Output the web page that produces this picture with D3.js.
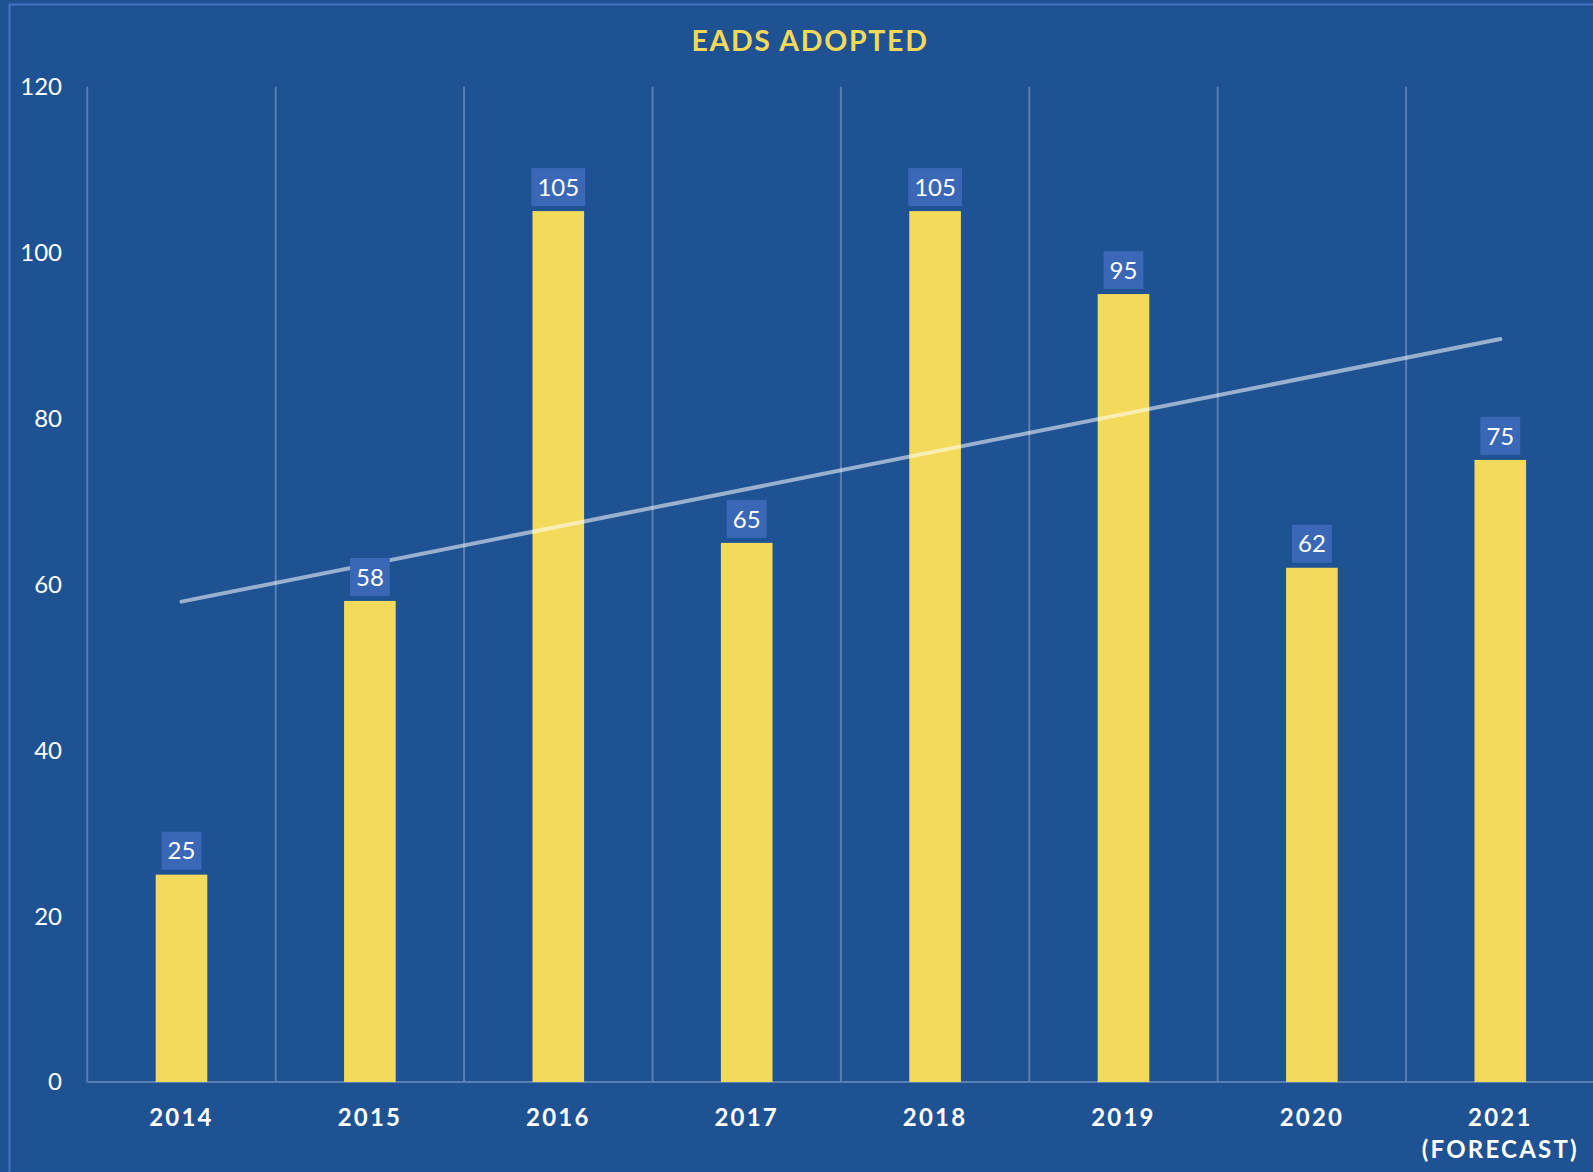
<!DOCTYPE html>
<html>
<head>
<meta charset="utf-8">
<script src="https://cdn.jsdelivr.net/npm/d3@7"></script>
<style>
  html, body { margin: 0; padding: 0; background: #1F5293; overflow: hidden; }
  svg { display: block; font-family: Lato, "Open Sans", sans-serif; }
</style>
</head>
<body>
<svg id="chart" width="1593" height="1172"></svg>
<script>
const categories = ["2014", "2015", "2016", "2017", "2018", "2019", "2020", "2021\n(FORECAST)"];
const values = [25, 58, 105, 65, 105, 95, 62, 75];
const yTicks = [0, 20, 40, 60, 80, 100, 120];
const title = "EADS ADOPTED";

(function () {
const W = 1593, H = 1172;
const svg = d3.select("#chart");

// background + frame
svg.append("rect").attr("x", 0).attr("y", 0).attr("width", W).attr("height", H).attr("fill", "#1F5293");
svg.append("rect").attr("x", 9.5).attr("y", 4.5).attr("width", W + 20).attr("height", H + 20)
  .attr("fill", "none").attr("stroke", "#4673C0").attr("stroke-width", 2);

const plotLeft = 87.3, step = 188.4, plotBottom = 1082, plotTop = 86.7;
const x = d3.scaleBand().domain(categories).range([plotLeft, plotLeft + step * categories.length]).padding(0);
const y = d3.scaleLinear().domain([0, 120]).range([plotBottom, plotTop]);
const barW = x.bandwidth() * 0.274;

// title
svg.append("text").attr("x", 810).attr("y", 50.5).attr("text-anchor", "middle")
  .attr("fill", "#F3D95A").attr("font-size", 28.5).attr("font-weight", 700)
  .attr("letter-spacing", 1.7).text(title);

// vertical gridlines at category boundaries
const bounds = categories.map(c => x(c));
svg.append("g").selectAll("line").data(bounds).join("line")
  .attr("x1", d => d).attr("x2", d => d).attr("y1", y(120)).attr("y2", y(0))
  .attr("stroke", "#5A7EB4").attr("stroke-width", 2);

// x axis line
svg.append("line").attr("x1", plotLeft).attr("x2", W).attr("y1", y(0)).attr("y2", y(0))
  .attr("stroke", "#5A7EB4").attr("stroke-width", 2);

// y tick labels
svg.append("g").selectAll("text").data(yTicks).join("text")
  .attr("x", 62).attr("y", d => y(d)).attr("dy", "0.35em").attr("text-anchor", "end")
  .attr("fill", "#FFFFFF").attr("font-size", 24).text(d => d);

// bars
svg.append("g").selectAll("rect").data(values).join("rect")
  .attr("x", (d, i) => x(categories[i]) + x.bandwidth() / 2 - barW / 2)
  .attr("y", d => y(d)).attr("width", barW).attr("height", d => y(0) - y(d))
  .attr("fill", "#F3DA5B");

// trendline (linear regression of the series)
const n = values.length;
const xs = values.map((d, i) => i + 1);
const mx = d3.mean(xs), my = d3.mean(values);
const slope = d3.sum(xs.map((xv, i) => (xv - mx) * (values[i] - my))) / d3.sum(xs.map(xv => (xv - mx) ** 2));
const icpt = my - slope * mx;
const cx = i => x(categories[i]) + x.bandwidth() / 2;
svg.append("line")
  .attr("x1", cx(0)).attr("y1", y(icpt + slope * 1))
  .attr("x2", cx(n - 1)).attr("y2", y(icpt + slope * n))
  .attr("stroke", "#FFFFFF").attr("stroke-opacity", 0.55).attr("stroke-width", 4).attr("stroke-linecap", "round");

// data labels
const lab = svg.append("g").selectAll("g").data(values).join("g");
lab.each(function(d, i) {
  const g = d3.select(this);
  const t = g.append("text").attr("x", cx(i)).attr("y", y(d) - 5 - 19).attr("dy", "0.36em")
    .attr("text-anchor", "middle").attr("fill", "#FFFFFF").attr("font-size", 24).text(d);
  const bw = t.node().getComputedTextLength() + 12;
  g.insert("rect", "text").attr("x", cx(i) - bw / 2).attr("y", y(d) - 5 - 38)
    .attr("width", bw).attr("height", 38).attr("fill", "#3A68B7");
});

// x category labels
const xl = svg.append("g").selectAll("text").data(categories).join("text")
  .attr("text-anchor", "middle").attr("fill", "#FFFFFF").attr("font-size", 24)
  .attr("font-weight", 700).attr("letter-spacing", 2.2);
xl.each(function(c) {
  const t = d3.select(this);
  c.split("\n").forEach((line, k) => {
    t.append("tspan").attr("x", x(c) + x.bandwidth() / 2).attr("y", 1126 + k * 32).text(line);
  });
});
})();
</script>
</body>
</html>
